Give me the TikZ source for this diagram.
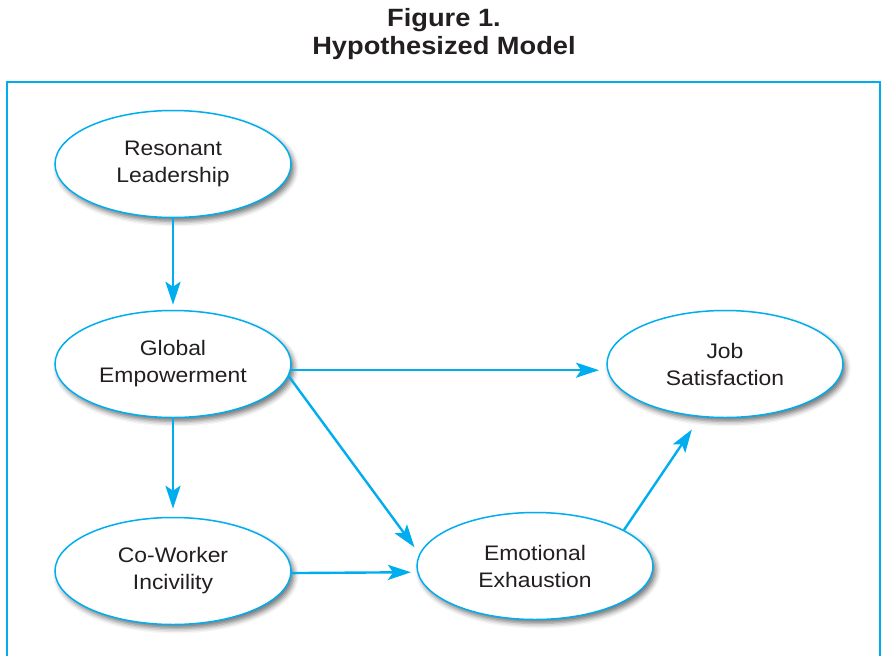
\documentclass[tikz,border=0pt]{standalone}
\usepackage{fontspec}
\setmainfont[FakeStretch=1.09]{Liberation Sans}
\usetikzlibrary{shapes.geometric,shadows.blur,arrows.meta}
\definecolor{cyanline}{HTML}{00AEEF}
\definecolor{inktext}{HTML}{231F20}
\tikzset{
  var/.style={ellipse, draw=cyanline, line width=1.5pt, fill=white,
    minimum width=236pt, minimum height=107pt, inner sep=0pt,
    align=center, text=inktext,
    font=\fontsize{21}{27}\selectfont,
    blur shadow={shadow xshift=3pt, shadow yshift=-4pt,
      shadow blur radius=5pt, shadow opacity=55}},
  path/.style={draw=cyanline, line width=2.4pt,
    -{Stealth[length=23pt,width=15pt,inset=5pt]}}
}

\begin{document}
\begin{tikzpicture}[x=1pt,y=-1pt]
    \useasboundingbox (0,0) rectangle (887,656);
    \node[align=center, text=inktext, font=\bfseries\fontsize{25}{28}\selectfont] (title) at (444,34) {Figure 1.\\Hypothesized Model};
    \draw[cyanline, line width=2pt] (7,82) rectangle (880,700);
    \node[var] (RL) at (173,164) {Resonant\\Leadership};
    \node[var] (GE) at (173,364) {Global\\Empowerment};
    \node[var] (CI) at (173,571) {Co-Worker\\Incivility};
    \node[var] (EE) at (535,566) {Emotional\\Exhaustion};
    \node[var] (JS) at (725,364) {Job\\Satisfaction};
    \draw[path, shorten >=5pt] (RL.south) -- (GE.north);
    \draw[path, shorten >=8pt] (GE.south) -- (CI.north);
    \draw[path, shorten >=8pt] (GE.-3) -- (JS.183);
    \draw[path, shorten >=8pt] (GE.-6) -- (EE.174);
    \draw[path, shorten >=6pt] (CI.-1) -- (EE.183);
    \draw[path, shorten >=15pt] (EE.22) -- (JS.245);
\end{tikzpicture}
\end{document}
